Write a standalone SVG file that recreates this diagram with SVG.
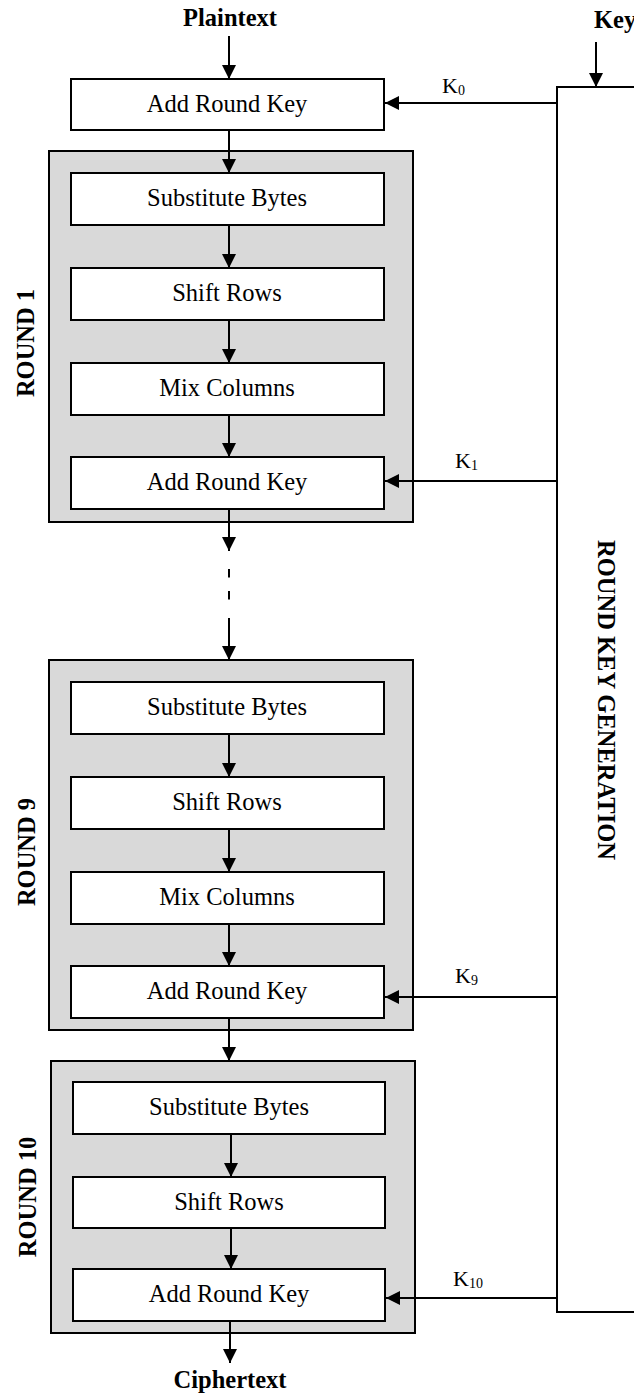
<svg xmlns="http://www.w3.org/2000/svg" width="634" height="1397" viewBox="0 0 634 1397">
<style>
.bg{fill:#ffffff}
.round{fill:#d9d9d9;stroke:#000;stroke-width:2}
.box{fill:#ffffff;stroke:#000;stroke-width:2}
.lbl{font-family:"Liberation Serif","Times New Roman",serif;font-size:24.5px;fill:#000;text-anchor:middle}
.bold{font-family:"Liberation Serif","Times New Roman",serif;font-size:24.5px;font-weight:bold;fill:#000;text-anchor:middle}
.klbl{font-family:"Liberation Serif","Times New Roman",serif;font-size:22px;fill:#000}
.sub{font-size:14px}
.ln{fill:none;stroke:#000;stroke-width:2}
.arr{fill:none;stroke:#000;stroke-width:2;marker-end:url(#ah)}
</style>
<defs>
<marker id="ah" markerUnits="userSpaceOnUse" markerWidth="14" markerHeight="14" refX="14" refY="7" orient="auto">
<path d="M0,0 L14,7 L0,14 z" fill="#000"/>
</marker>
</defs>
<rect class="bg" x="0" y="0" width="634" height="1397"/>

<g id="io-labels">
<text id="plaintext" class="bold" x="230" y="26">Plaintext</text>
<text id="key" class="bold" x="594" y="28" style="text-anchor:start">Key</text>
<text id="ciphertext" class="bold" x="230" y="1388">Ciphertext</text>
</g>

<g id="key-gen">
<path class="ln" d="M640,87 H557 V1312 H640"/>
<text class="bold" transform="translate(598,700) rotate(90)">ROUND KEY GENERATION</text>
</g>

<g id="ark0">
<rect class="box" x="71" y="79" width="313" height="51"/>
<text class="lbl" x="227" y="112">Add Round Key</text>
</g>

<g id="round1">
<rect class="round" x="49" y="151" width="364" height="371"/>
<text class="bold" transform="translate(34,343) rotate(-90)">ROUND 1</text>
<g id="r1-sub"><rect class="box" x="71" y="173" width="313" height="52"/><text class="lbl" x="227" y="206">Substitute Bytes</text></g>
<g id="r1-shift"><rect class="box" x="71" y="268" width="313" height="52"/><text class="lbl" x="227" y="301">Shift Rows</text></g>
<g id="r1-mix"><rect class="box" x="71" y="363" width="313" height="52"/><text class="lbl" x="227" y="396">Mix Columns</text></g>
<g id="r1-ark"><rect class="box" x="71" y="457" width="313" height="52"/><text class="lbl" x="227" y="490">Add Round Key</text></g>
</g>

<g id="round9">
<rect class="round" x="49" y="660" width="364" height="370"/>
<text class="bold" transform="translate(35,852) rotate(-90)">ROUND 9</text>
<g id="r9-sub"><rect class="box" x="71" y="682" width="313" height="52"/><text class="lbl" x="227" y="715">Substitute Bytes</text></g>
<g id="r9-shift"><rect class="box" x="71" y="777" width="313" height="52"/><text class="lbl" x="227" y="810">Shift Rows</text></g>
<g id="r9-mix"><rect class="box" x="71" y="872" width="313" height="52"/><text class="lbl" x="227" y="905">Mix Columns</text></g>
<g id="r9-ark"><rect class="box" x="71" y="966" width="313" height="52"/><text class="lbl" x="227" y="999">Add Round Key</text></g>
</g>

<g id="round10">
<rect class="round" x="51" y="1061" width="364" height="272"/>
<text class="bold" transform="translate(36,1197) rotate(-90)">ROUND 10</text>
<g id="r10-sub"><rect class="box" x="73" y="1082" width="312" height="52"/><text class="lbl" x="229" y="1115">Substitute Bytes</text></g>
<g id="r10-shift"><rect class="box" x="73" y="1177" width="312" height="51"/><text class="lbl" x="229" y="1210">Shift Rows</text></g>
<g id="r10-ark"><rect class="box" x="73" y="1269" width="312" height="52"/><text class="lbl" x="229" y="1302">Add Round Key</text></g>
</g>

<g id="key-labels">
<text class="klbl" x="442" y="93">K<tspan class="sub" dy="2">0</tspan></text>
<text class="klbl" x="455" y="468">K<tspan class="sub" dy="2">1</tspan></text>
<text class="klbl" x="455" y="983">K<tspan class="sub" dy="2">9</tspan></text>
<text class="klbl" x="453" y="1286">K<tspan class="sub" dy="2">10</tspan></text>
</g>

<g id="connectors">
<line class="arr" x1="229" y1="36" x2="229" y2="79"/>
<line class="arr" x1="596" y1="42" x2="596" y2="87"/>
<line class="arr" x1="557" y1="103" x2="385" y2="103"/>
<line class="arr" x1="229" y1="130" x2="229" y2="173"/>
<line class="arr" x1="229" y1="225" x2="229" y2="268"/>
<line class="arr" x1="229" y1="320" x2="229" y2="363"/>
<line class="arr" x1="229" y1="415" x2="229" y2="457"/>
<line class="arr" x1="557" y1="481" x2="385" y2="481"/>
<line class="arr" x1="229" y1="509" x2="229" y2="551"/>
<line class="ln" x1="229" y1="569" x2="229" y2="600" stroke-dasharray="8.5 13.5"/>
<line class="arr" x1="229" y1="618" x2="229" y2="660"/>
<line class="arr" x1="229" y1="734" x2="229" y2="777"/>
<line class="arr" x1="229" y1="829" x2="229" y2="872"/>
<line class="arr" x1="229" y1="924" x2="229" y2="966"/>
<line class="arr" x1="557" y1="997" x2="385" y2="997"/>
<line class="arr" x1="229" y1="1018" x2="229" y2="1061"/>
<line class="arr" x1="231" y1="1134" x2="231" y2="1177"/>
<line class="arr" x1="231" y1="1228" x2="231" y2="1269"/>
<line class="arr" x1="557" y1="1298" x2="386" y2="1298"/>
<line class="arr" x1="230" y1="1321" x2="230" y2="1363"/>
</g>
</svg>
